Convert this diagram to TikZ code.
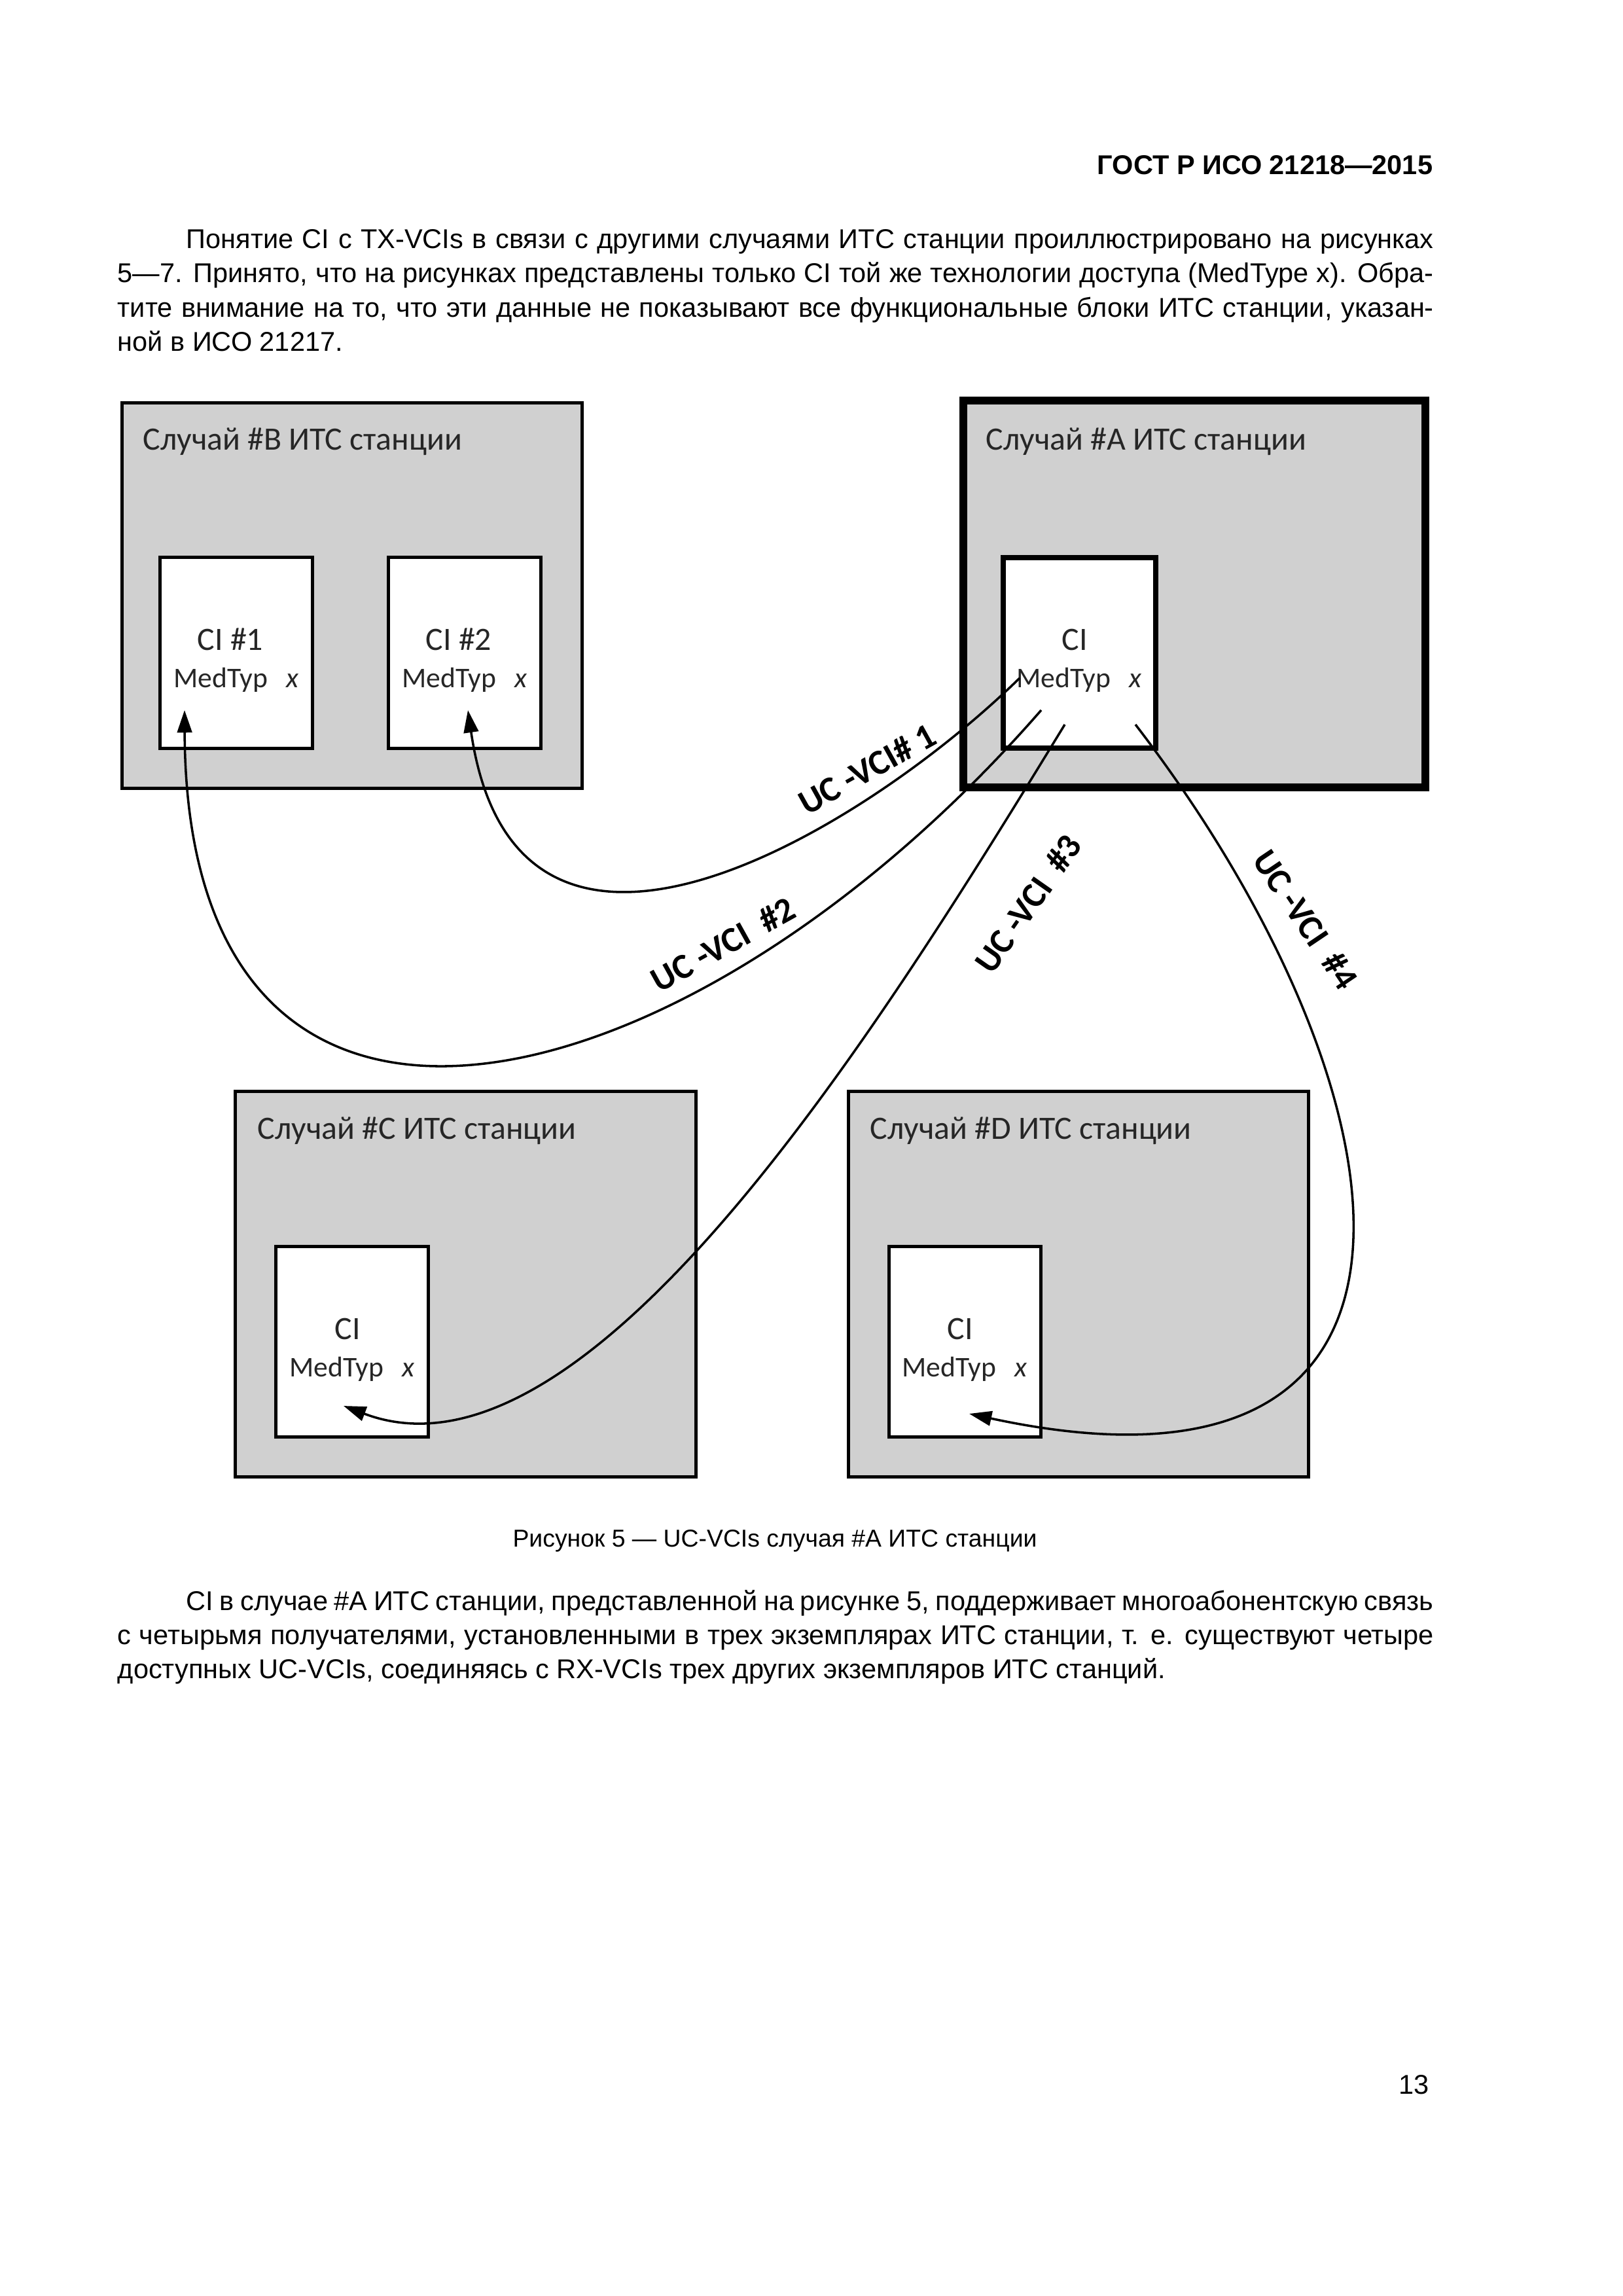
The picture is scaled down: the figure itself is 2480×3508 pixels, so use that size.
\documentclass[tikz,border=0pt]{standalone}
\usepackage{fontspec}
\setmainfont{Liberation Sans}
\newfontfamily\calfont{Carlito}
\usetikzlibrary{arrows.meta}
\definecolor{boxgray}{RGB}{208,208,208}
\definecolor{inktext}{RGB}{38,38,38}

\tikzset{
  station/.style={draw=black,fill=boxgray,line width=1.2pt,minimum width=59.6mm,minimum height=49.8mm,inner sep=0pt},
  mainstation/.style={station,line width=2.9pt,minimum width=59.76mm,minimum height=50.1mm},
  cibox/.style={draw=black,fill=white,line width=1.2pt,minimum width=19.7mm,minimum height=24.66mm,inner sep=0pt},
  maincibox/.style={cibox,line width=1.9pt},
  stationtitle/.style={anchor=base west,inner sep=0pt,text=inktext,font=\calfont\fontsize{12}{14}\selectfont},
  ciname/.style={anchor=base,inner sep=0pt,text=inktext,font=\calfont\fontsize{12}{14}\selectfont},
  medtyp/.style={anchor=base,inner sep=0pt,text=inktext,font=\calfont\fontsize{10.5}{12}\selectfont},
  link/.style={line width=0.85pt,-{Triangle[length=2.9mm,width=1.9mm]}},
  vcilabel/.style={inner sep=0pt,font=\calfont\bfseries\fontsize{13}{15}\selectfont},
  bodyline/.style={anchor=base west,inner sep=0pt,font=\fontsize{10}{12.65}\selectfont},
}

\begin{document}
\begin{tikzpicture}[x=0.0846773mm,y=-0.0846773mm]
\useasboundingbox (0,0) rectangle (2480,3508);

\node[anchor=base east,inner sep=0pt,font=\bfseries\fontsize{10}{12}\selectfont] (gost) at (2190,266) {ГОСТ Р ИСО 21218—2015};

\node[bodyline] (p1a) at (284,379) {\makebox[161.36mm][s]{Понятие CI с TX-VCIs в связи с другими случаями ИТС станции проиллюстрировано на рисунках}};
\node[bodyline] (p1b) at (179,431) {\makebox[170.27mm][s]{5—7. Принято, что на рисунках представлены только CI той же технологии доступа (MedType x). Обра-}};
\node[bodyline] (p1c) at (179,484) {\makebox[170.27mm][s]{тите внимание на то, что эти данные не показывают все функциональные блоки ИТС станции, указан-}};
\node[bodyline] (p1d) at (179,536) {ной в ИСО 21217.};

\node[station] (stB) at (538,910) {}; \node[mainstation] (stA) at (1825,907.5) {};
\node[station] (stC) at (711.5,1962) {}; \node[station] (stD) at (1648,1962) {};

\node[stationtitle] (tB) at (218,687) {Случай \#B ИТС станции};
\node[stationtitle] (tA) at (1506,687) {Случай \#A ИТС станции};
\node[stationtitle] (tC) at (393,1740) {Случай \#C ИТС станции};
\node[stationtitle] (tD) at (1329,1740) {Случай \#D ИТС станции};

\node[cibox] (ci1) at (361,997.5) {}; \node[cibox] (ci2) at (710,997.5) {};
\node[maincibox] (ciA) at (1649.5,997.5) {};
\node[cibox] (ciC) at (538,2050) {}; \node[cibox] (ciD) at (1474.5,2050) {};

\node[ciname] (n1) at (352,993) {CI \#1}; \node[medtyp] (m1) at (361,1050) {MedTyp\hspace{2.4mm}\textit{x}};
\node[ciname] (n2) at (701,993) {CI \#2}; \node[medtyp] (m2) at (710,1050) {MedTyp\hspace{2.4mm}\textit{x}};
\node[ciname] (nA) at (1642,993) {CI}; \node[medtyp] (mA) at (1649,1050) {MedTyp\hspace{2.4mm}\textit{x}};
\node[ciname] (nC) at (531,2046) {CI}; \node[medtyp] (mC) at (538,2103) {MedTyp\hspace{2.4mm}\textit{x}};
\node[ciname] (nD) at (1467,2046) {CI}; \node[medtyp] (mD) at (1474,2103) {MedTyp\hspace{2.4mm}\textit{x}};

\coordinate (a1) at (1558,1036); \coordinate (a2) at (1591,1085);
\coordinate (a3) at (1627,1107); \coordinate (a4) at (1735,1107);
\coordinate (e1) at (282,1085); \coordinate (e2) at (715,1085);
\coordinate (e3) at (525,2148); \coordinate (e4) at (1481,2160);

\draw[link] (a1) .. controls (1330,1260) and (790,1600) .. (e2);
\draw[link] (a2) .. controls (1055,1700) and (285,1900) .. (e1);
\draw[link] (a3) .. controls (1350,1560) and (900,2290) .. (e3);
\draw[link] (a4) .. controls (2160,1660) and (2270,2330) .. (e4);

\node[vcilabel,rotate=29] (l1) at (1325,1175) {UC -VCI\# 1};
\node[vcilabel,rotate=29] (l2) at (1105,1443) {UC -VCI \ \#2};
\node[vcilabel,rotate=55] (l3) at (1571,1381) {UC -VCI \ \#3};
\node[vcilabel,rotate=-56] (l4) at (1995,1405) {UC -VCI \ \#4};

\node[anchor=base,inner sep=0pt,font=\fontsize{9}{11}\selectfont] (caption) at (1184,2363) {Рисунок 5 — UC-VCIs случая \#A ИТС станции};

\node[bodyline] (p2a) at (284,2460) {\makebox[161.36mm][s]{CI в случае \#A ИТС станции, представленной на рисунке 5, поддерживает многоабонентскую связь}};
\node[bodyline] (p2b) at (179,2512) {\makebox[170.27mm][s]{с четырьмя получателями, установленными в трех экземплярах ИТС станции, т. е. существуют четыре}};
\node[bodyline] (p2c) at (179,2564) {доступных UC-VCIs, соединяясь с RX-VCIs трех других экземпляров ИТС станций.};

\node[anchor=base east,inner sep=0pt,font=\fontsize{10}{12}\selectfont] (pageno) at (2184,3199) {13};
\end{tikzpicture}
\end{document}
